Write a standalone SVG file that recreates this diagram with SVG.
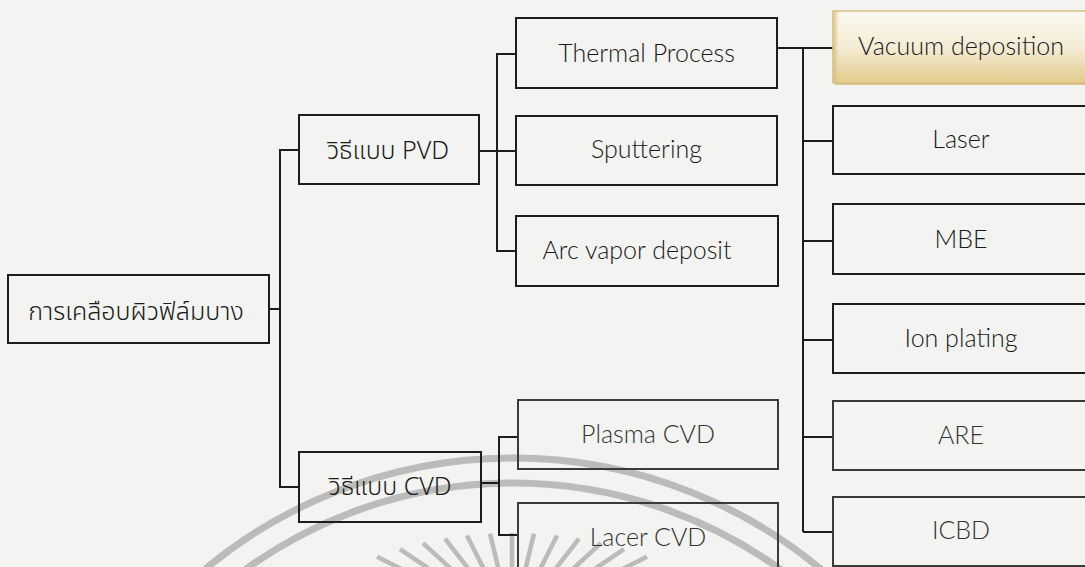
<svg xmlns="http://www.w3.org/2000/svg" width="1085" height="567" viewBox="0 0 1085 567">
<defs>
<linearGradient id="gold" x1="0" y1="0" x2="0" y2="1">
<stop offset="0" stop-color="#fbf9f1"/>
<stop offset="0.5" stop-color="#f4ecd6"/>
<stop offset="1" stop-color="#e3cb8c"/>
</linearGradient>
<linearGradient id="goldL" x1="0" y1="0" x2="1" y2="0">
<stop offset="0" stop-color="#d9bf7a" stop-opacity="0.9"/>
<stop offset="1" stop-color="#d9bf7a" stop-opacity="0"/>
</linearGradient>
<style>
.bx{fill:none;stroke:#1c1c1c;stroke-width:2}
.bx2{fill:none;stroke:#3a3a3a;stroke-width:2}
.t{font-family:Lato,"Liberation Sans",sans-serif;font-weight:300;font-size:25px;fill:#1a1a1a;text-anchor:middle}
.t2{fill:#333333}
.th{font-family:"Noto Sans Thai","Noto Sans",Lato,sans-serif;font-weight:300;font-size:25px;fill:#1a1a1a;text-anchor:middle}
.cn{fill:none;stroke:#1c1c1c;stroke-width:2}
.wm{fill:none;stroke:#8c8c8c;stroke-opacity:0.55}
</style>
</defs>
<rect x="0" y="0" width="1085" height="567" fill="#f3f3f1"/>
<g id="watermark">
<path class="wm" stroke-width="7" d="M192.5,580 A482,482 0 0 1 833.5,580"/>
<path class="wm" stroke-width="7" d="M231.5,580 A457,457 0 0 1 794.5,580"/>
<g class="wm" stroke-width="4.5">
<line x1="377" y1="556.7" x2="413.2" y2="575"/>
<line x1="400" y1="549.1" x2="438.2" y2="575"/>
<line x1="423" y1="543.1" x2="457.7" y2="575"/>
<line x1="445" y1="538.7" x2="473.2" y2="575"/>
<line x1="467" y1="535.6" x2="486.8" y2="575"/>
<line x1="490" y1="533.6" x2="500" y2="575"/>
<line x1="512" y1="533" x2="512" y2="575"/>
<line x1="534" y1="533.6" x2="524" y2="575"/>
<line x1="557" y1="535.6" x2="537.2" y2="575"/>
<line x1="579" y1="538.7" x2="550.8" y2="575"/>
<line x1="601" y1="543.1" x2="566.3" y2="575"/>
<line x1="624" y1="549.1" x2="585.8" y2="575"/>
<line x1="647" y1="556.7" x2="610.8" y2="575"/>
</g>
</g>
<g id="connectors">
<path class="cn" d="M269,309 H280 M299,150 H280 V487 H299"/>
<path class="cn" d="M479,151 H497 M516,54 H497 V251 H516 M497,151 H516"/>
<path class="cn" d="M481,483 H499 M518,437 H499 V535 H518"/>
<path class="cn" d="M777,48 H833 M803,48 V532 M803,141 H833 M803,241 H833 M803,340 H833 M803,437 H833 M803,532 H833"/>
</g>
<g id="root">
<rect class="bx" x="8" y="275" width="261" height="68"/>
<text class="th" x="136" y="320">การเคลือบผิวฟิล์มบาง</text>
</g>
<g id="pvd">
<rect class="bx" x="299" y="115" width="180" height="69"/>
<text class="th" x="388" y="159">วิธีแบบ PVD</text>
</g>
<g id="cvd">
<rect class="bx" x="299" y="452" width="182" height="70"/>
<text class="th" x="390" y="495">วิธีแบบ CVD</text>
</g>
<g id="thermal">
<rect class="bx" x="516" y="18" width="261" height="70"/>
<text class="t" x="646.5" y="62">Thermal Process</text>
</g>
<g id="sputtering">
<rect class="bx" x="516" y="116" width="261" height="69"/>
<text class="t" x="646.5" y="158">Sputtering</text>
</g>
<g id="arc">
<rect class="bx" x="516" y="216" width="262" height="70"/>
<text class="t" x="637" y="259">Arc vapor deposit</text>
</g>
<g id="plasma">
<rect class="bx2" x="518" y="400" width="260" height="69"/>
<text class="t t2" x="648" y="443">Plasma CVD</text>
</g>
<g id="lacer">
<rect class="bx2" x="518" y="503" width="260" height="80"/>
<text class="t t2" x="648" y="546">Lacer CVD</text>
</g>
<g id="vacuum">
<rect x="835" y="13" width="260" height="72" fill="#cdb06a" opacity="0.7"/>
<rect x="833" y="11" width="260" height="72" fill="url(#gold)" stroke="#d8c07e" stroke-width="1.5"/>
<rect x="833" y="11" width="6" height="72" fill="url(#goldL)"/>
<text class="t" x="961" y="55" font-size="26">Vacuum deposition</text>
</g>
<g id="laser">
<rect class="bx" x="833" y="106" width="260" height="68"/>
<text class="t" x="961" y="148">Laser</text>
</g>
<g id="mbe">
<rect class="bx" x="833" y="204" width="260" height="70"/>
<text class="t" x="961" y="248">MBE</text>
</g>
<g id="ion">
<rect class="bx" x="833" y="304" width="260" height="69"/>
<text class="t" x="961" y="347">Ion plating</text>
</g>
<g id="are">
<rect class="bx2" x="833" y="401" width="260" height="69"/>
<text class="t t2" x="961" y="444">ARE</text>
</g>
<g id="icbd">
<rect class="bx2" x="833" y="497" width="260" height="69"/>
<text class="t t2" x="961" y="539">ICBD</text>
</g>
</svg>
